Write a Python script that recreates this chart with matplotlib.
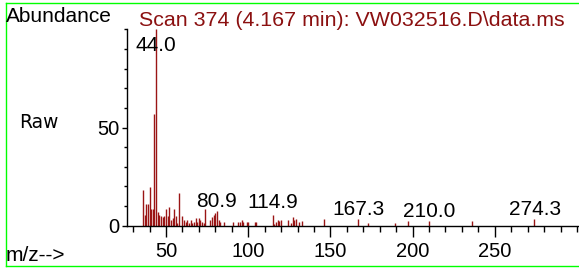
import matplotlib
matplotlib.use("Agg")
import matplotlib.pyplot as plt
from matplotlib.lines import Line2D
from matplotlib.ticker import MultipleLocator

# ---- data ----
mz = [36, 37, 38, 39, 40, 41, 42, 43, 44, 45, 46, 47, 48, 49, 50, 51, 52, 53, 54,
      55, 56, 57, 58, 60, 61, 62, 63, 64, 65, 66, 67, 68, 69, 70, 71, 72, 73, 74,
      77, 78, 79, 80, 81, 82, 83, 85, 91, 94, 95, 96, 97, 99, 100, 104, 105,
      115, 116, 117, 118, 119, 120, 124, 126, 127, 128, 129, 131, 133, 146,
      167, 173, 189, 197, 210, 236, 274]
abundance = [18.4, 5.4, 11.3, 11.3, 19.7, 8.3, 8.3, 57.0, 100.0, 7.0, 5.4, 5.0, 4.2, 5.0, 8.3, 5.0, 9.3, 2.9, 4.0,
             8.3, 5.0, 1.2, 16.4, 5.0, 3.0, 2.0, 3.0, 1.5, 3.0, 1.5, 2.0, 4.0, 2.0, 4.0, 3.0, 2.0, 1.5, 8.3,
             3.0, 4.5, 5.5, 6.5, 7.5, 3.0, 2.0, 2.0, 2.0, 2.0, 2.0, 3.0, 2.0, 2.0, 2.0, 2.0, 2.0,
             5.5, 1.0, 2.0, 3.0, 2.5, 2.9, 2.9, 1.2, 4.5, 3.0, 3.5, 2.0, 2.5, 3.3,
             3.4, 1.5, 1.5, 2.4, 2.4, 2.4, 3.4]
peak_labels = ["44.0", "80.9", "114.9", "167.3", "210.0", "274.3"]
peak_label_x = [44.0, 80.9, 114.9, 167.3, 210.0, 274.3]
peak_label_y = [89.2, 9.6, 8.8, 5.4, 4.5, 5.4]
x_ticks = [50, 100, 150, 200, 250]
y_ticks = [0, 50]
title = "Scan 374 (4.167 min): VW032516.D\\data.ms"

W, H = 579, 270
fig = plt.figure(figsize=(W / 100, H / 100), dpi=100)
fig.patch.set_facecolor("white")

AF = "Liberation Sans"

def px(x, y):
    return x / W, 1 - y / H

# axes placement (pixels)
left, right, top, bottom = 126.5, 579, 29.3, 225.7
ax = fig.add_axes([left / W, 1 - bottom / H, (right - left) / W, (bottom - top) / H])
ax.set_facecolor("none")

ax.vlines(mz, 0, abundance, color="#9a1515", linewidth=1.0)

ax.set_xlim(26.0, 301.2)
ax.set_ylim(0, 100)

for s in ["top", "right"]:
    ax.spines[s].set_visible(False)
for s in ["left", "bottom"]:
    ax.spines[s].set_color("black")
    ax.spines[s].set_linewidth(1.0)

ax.set_xticks(x_ticks)
ax.set_xticklabels([str(t) for t in x_ticks], fontfamily=AF, fontsize=14.5)
ax.xaxis.set_minor_locator(MultipleLocator(10))
ax.set_yticks(y_ticks)
ax.set_yticklabels([str(t) for t in y_ticks], fontfamily=AF, fontsize=14.5)
ax.yaxis.set_minor_locator(MultipleLocator(10))

ax.tick_params(axis="x", which="major", direction="out", length=8.0, width=1.0, pad=3.8, colors="black")
ax.tick_params(axis="x", which="minor", direction="out", length=4.3, width=1.0)
ax.tick_params(axis="y", which="major", direction="out", length=3.6, width=1.0, pad=1.8, colors="black")
ax.tick_params(axis="y", which="minor", direction="out", length=2.2, width=1.0)

for lab, lx, ly in zip(peak_labels, peak_label_x, peak_label_y):
    ax.text(lx, ly, lab, ha="center", va="baseline", fontfamily=AF, fontsize=15, color="black")

# figure texts
fig.text(*px(6, 22.3), "Abundance", ha="left", va="baseline", fontfamily=AF, fontsize=15, color="black")
fig.text(*px(139.3, 26.0), title, ha="left", va="baseline", fontfamily=AF, fontsize=15.4, color="#8b1010")
fig.text(*px(19.3, 128.3), "Raw", ha="left", va="baseline", fontfamily="DejaVu Sans", fontsize=13.4, color="black")
fig.text(*px(6, 261), "m/z-->", ha="left", va="baseline", fontfamily=AF, fontsize=15, color="black")

# green frame
g = "#00ff00"
fig.add_artist(Line2D([5.7 / W, 1.0], [1 - 2.7 / H, 1 - 2.7 / H], color=g, linewidth=1.0, transform=fig.transFigure))
fig.add_artist(Line2D([5.7 / W, 1.0], [1 - 265.7 / H, 1 - 265.7 / H], color=g, linewidth=1.0, transform=fig.transFigure))
fig.add_artist(Line2D([5.7 / W, 5.7 / W], [1 - 2.7 / H, 1 - 265.7 / H], color=g, linewidth=1.0, transform=fig.transFigure))

fig.savefig("out.png", dpi=100)
